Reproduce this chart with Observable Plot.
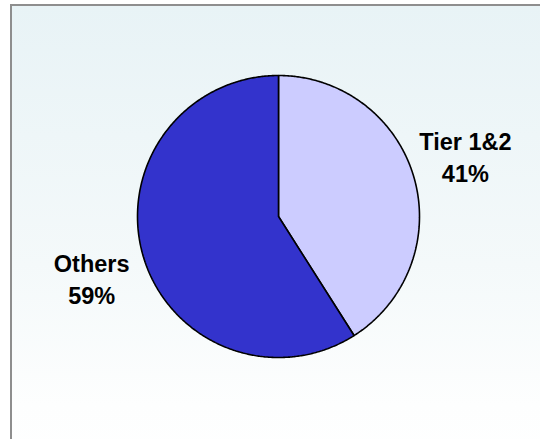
<!DOCTYPE html>
<html><head><meta charset="utf-8">
<script src="https://cdn.jsdelivr.net/npm/d3@7"></script>
<script src="https://cdn.jsdelivr.net/npm/@observablehq/plot@0.6"></script>
<style>
html,body{margin:0;padding:0;width:540px;height:439px;overflow:hidden;background:#fff}
#frame{position:absolute;left:10px;top:4px;width:560px;height:470px;border-top:2px solid #8e8e8e;border-left:2px solid #8e8e8e;background:linear-gradient(to bottom,#e8f3f6 0%,#f4f9fa 55%,#fdfefe 85%,#ffffff 100%)}
#chart{position:absolute;left:0;top:0}
</style></head><body><div id="frame"></div><div id="chart"></div>
<script>
const categories = ["Tier 1&2", "Others"];
const shares = [41, 59];
const colors = ["#ccccff", "#3333cc"];

const total = d3.sum(shares);
const pts = [];
const labels = [];
let acc = 0;
categories.forEach((name, i) => {
  const a0 = acc / total * 2 * Math.PI;
  acc += shares[i];
  const a1 = acc / total * 2 * Math.PI;
  const n = Math.max(8, Math.ceil((a1 - a0) / (Math.PI / 360)));
  pts.push({name, x: 0, y: 0});
  for (let k = 0; k <= n; k++) {
    const t = a0 + (a1 - a0) * k / n;
    pts.push({name, x: Math.sin(t), y: Math.cos(t)});
  }
  pts.push({name, x: 0, y: 0});
  const m = (a0 + a1) / 2;
  labels.push({name, x: 1.38 * Math.sin(m), y: 1.55 * Math.cos(m), text: name + "\n" + shares[i] + "%"});
});

const chart = Plot.plot({
  width: 540,
  height: 439,
  margin: 0,
  x: {domain: [-1, 1], range: [137, 419], axis: null},
  y: {domain: [-1, 1], range: [357, 75], axis: null},
  color: {domain: categories, range: colors},
  style: {background: "transparent"},
  marks: [
    Plot.line(pts, {x: "x", y: "y", z: "name", fill: "name", stroke: "#000", strokeWidth: 1.6, strokeLinejoin: "miter", curve: "linear"}),
    Plot.text(labels, {x: "x", y: "y", text: "text", fontSize: 23.5, fontWeight: "bold", fill: "#000", lineHeight: 1.36, fontFamily: "Liberation Sans, Arial, sans-serif"})
  ]
});
document.getElementById("chart").appendChild(chart);
</script>
</body></html>
